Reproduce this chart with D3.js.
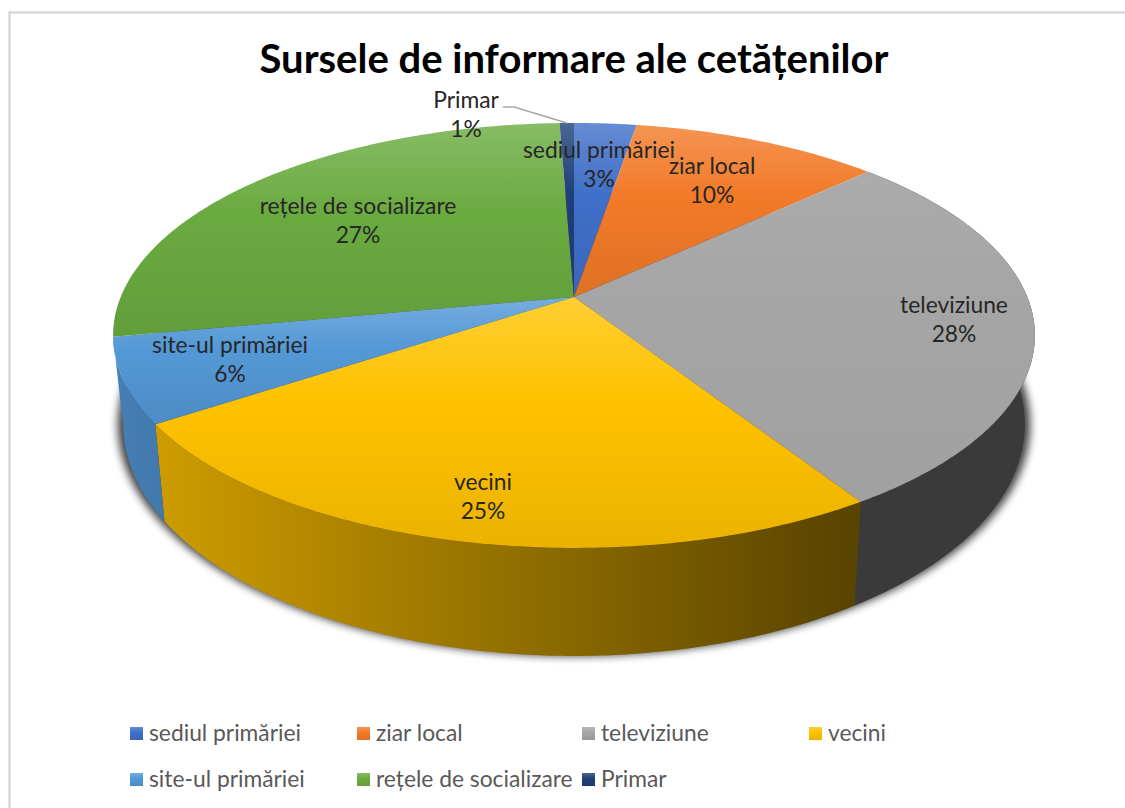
<!DOCTYPE html>
<html>
<head>
<meta charset="utf-8">
<script src="https://cdn.jsdelivr.net/npm/d3@7"></script>
<style>
  html, body { margin: 0; background: #fff; }
  text { font-family: Lato, "Open Sans", sans-serif; }
</style>
</head>
<body>
<svg id="chart" width="1125" height="808"></svg>
<script>
const title = "Sursele de informare ale cetățenilor";
const categories = ["sediul primăriei", "ziar local", "televiziune", "vecini", "site-ul primăriei", "rețele de socializare", "Primar"];
// labels round them to whole percents
const values = [2.6, 10.4, 28, 24.6, 6.4, 27.4, 0.6];
const colors = ["#3f6fc8", "#f27a28", "#a5a5a5", "#ffc200", "#5398d6", "#6aab40", "#1f3f7a"];
const sheenStrength = [1, 1, 0.35, 1, 1, 1, 1];

// label centres, hand placed like in the original
const labelX = [599, 712, 954, 483, 230, 358, 466];
const labelY = [150, 166, 305, 482, 345, 206, 100];

const legendX = [130, 357, 582, 809, 130, 357, 582];
const legendY = [733, 733, 733, 733, 779, 779, 779];

const svg = d3.select("#chart");
const defs = svg.append("defs");

// perspective disc: apex of the pie and the tilt
const apexX = 574, apexY = 297;
const k = 0.181, A = 453.3, B = 205.5;
const bottomXScale = 0.978, bottomYScale = 1.0894, bottomShift = 85.6;

function topPoint(a, r = 1) {
    const u = r * Math.sin(a), v = -r * Math.cos(a);
    const d = 1 - k * v;
    return [apexX + A * u / d, apexY + B * v / d];
}
function bottomPoint(a) {
    const p = topPoint(a);
    return [apexX + (p[0] - apexX) * bottomXScale, apexY + (p[1] - apexY) * bottomYScale + bottomShift];
}
function arcSamples(a0, a1, fn) {
    const n = Math.max(2, Math.ceil((a1 - a0) / 0.01));
    return d3.range(n + 1).map(i => fn(a0 + (a1 - a0) * i / n));
}

const line = d3.line();
const pie = d3.pie().sort(null).value(d => d);
const slices = pie(values);

const blur = defs.append("filter").attr("id", "shadow")
    .attr("x", "-10%").attr("y", "-10%").attr("width", "120%").attr("height", "120%");
blur.append("feGaussianBlur").attr("stdDeviation", 4);

// sheen per slice, lighter at its far edge and darker at its near edge
const sheen = defs.append("linearGradient").attr("id", "sheen")
    .attr("x1", 0).attr("x2", 0).attr("y1", 0).attr("y2", 1);
sheen.append("stop").attr("offset", 0).attr("stop-color", "#fff").attr("stop-opacity", 0.2);
sheen.append("stop").attr("offset", 0.42).attr("stop-color", "#fff").attr("stop-opacity", 0);
sheen.append("stop").attr("offset", 0.42).attr("stop-color", "#000").attr("stop-opacity", 0);
sheen.append("stop").attr("offset", 1).attr("stop-color", "#000").attr("stop-opacity", 0.08);

// side shading goes dark from left to right
const side = defs.selectAll(".side").data(colors).enter().append("linearGradient")
    .attr("id", (d, i) => "side" + i)
    .attr("gradientUnits", "userSpaceOnUse")
    .attr("x1", 120).attr("x2", 1030).attr("y1", 0).attr("y2", 0);
side.append("stop").attr("offset", 0).attr("stop-color", d => d3.interpolateRgb(d, "#000")(0.17));
side.append("stop").attr("offset", 0.8).attr("stop-color", d => d3.interpolateRgb(d, "#000")(0.65));
side.append("stop").attr("offset", 1).attr("stop-color", d => d3.interpolateRgb(d, "#000")(0.65));

// frame, the screenshot cuts it off on the right and at the bottom
svg.append("path")
    .attr("d", line([[9.5, 808], [9.5, 12.5], [1125, 12.5]]))
    .attr("fill", "none").attr("stroke", "#d9d9d9").attr("stroke-width", 2.5);

svg.append("text").attr("x", 574).attr("y", 73).attr("text-anchor", "middle")
    .attr("font-size", 40).attr("font-weight", 700).attr("fill", "#000")
    .text(title);

// shadow below the base
svg.append("path")
    .attr("d", line(arcSamples(0, 2 * Math.PI, a => {
        const p = bottomPoint(a);
        return [apexX + (p[0] - apexX) * 1.012, p[1]];
    })) + "Z")
    .attr("fill", "#000").attr("opacity", 0.75).attr("filter", "url(#shadow)");

// outer walls, only the slices facing the viewer
const frontSlices = slices.filter(d => Math.cos((d.startAngle + d.endAngle) / 2) < 0);
svg.selectAll(".wall").data(frontSlices).enter().append("path")
    .attr("class", "wall")
    .attr("d", d => line(arcSamples(d.startAngle, d.endAngle, topPoint)
        .concat(arcSamples(d.startAngle, d.endAngle, bottomPoint).reverse())) + "Z")
    .attr("fill", d => `url(#side${d.index})`);

// top surface
function slicePath(d) {
    return line([[apexX, apexY]].concat(arcSamples(d.startAngle, d.endAngle, topPoint))) + "Z";
}
svg.selectAll(".slice").data(slices).enter().append("path")
    .attr("class", "slice").attr("d", slicePath)
    .attr("fill", (d, i) => colors[i]);
svg.selectAll(".slice-sheen").data(slices).enter().append("path")
    .attr("class", "slice-sheen").attr("d", slicePath)
    .attr("fill", "url(#sheen)").attr("fill-opacity", (d, i) => sheenStrength[i]);

// leader line for Primar
const primar = slices[6];
const leaderEnd = topPoint((primar.startAngle + primar.endAngle) / 2);
svg.append("path")
    .attr("d", line([[503, 107], [514, 107], leaderEnd]))
    .attr("fill", "none").attr("stroke", "#a6a6a6").attr("stroke-width", 1.5);

// data labels
const labels = svg.selectAll(".label").data(slices).enter().append("g").attr("class", "label");
labels.append("text")
    .attr("x", (d, i) => labelX[i]).attr("y", (d, i) => labelY[i] + 8)
    .attr("text-anchor", "middle").attr("font-size", 22.8).attr("fill", "#262626")
    .text((d, i) => categories[i]);
labels.append("text")
    .attr("x", (d, i) => labelX[i]).attr("y", (d, i) => labelY[i] + 37)
    .attr("text-anchor", "middle").attr("font-size", 22.8).attr("fill", "#262626")
    .text(d => Math.round(d.value) + "%");

// legend
const legend = svg.selectAll(".legend").data(categories).enter().append("g").attr("class", "legend");
legend.append("rect")
    .attr("x", (d, i) => legendX[i]).attr("y", (d, i) => legendY[i] - 6)
    .attr("width", 13).attr("height", 13)
    .attr("fill", (d, i) => colors[i]);
legend.append("rect")
    .attr("x", (d, i) => legendX[i]).attr("y", (d, i) => legendY[i] - 6)
    .attr("width", 13).attr("height", 13)
    .attr("fill", "url(#sheen)");
legend.append("text")
    .attr("x", (d, i) => legendX[i] + 19).attr("y", (d, i) => legendY[i] + 8)
    .attr("font-size", 22.8).attr("fill", "#595959")
    .text(d => d);
</script>
</body>
</html>
